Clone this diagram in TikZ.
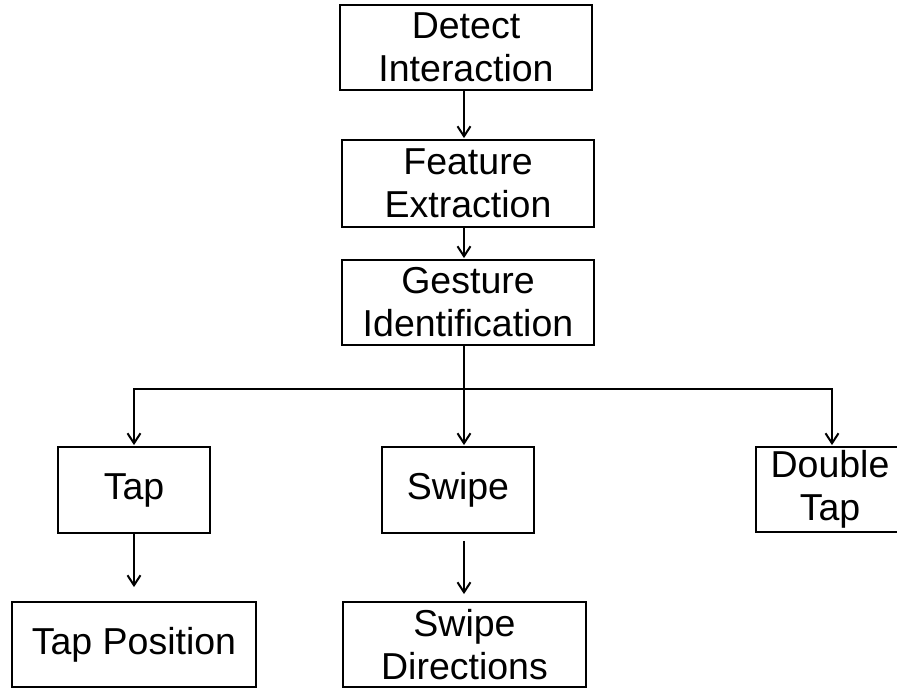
\documentclass[tikz,border=0pt]{standalone}
\usepackage{fontspec}
\setmainfont{Liberation Sans}
\usetikzlibrary{arrows.meta}
\begin{document}
\begin{tikzpicture}[x=1pt,y=-1pt,
  box/.style={draw=black, line width=1.8pt, inner sep=0pt, align=center,
    font=\fontsize{37.5}{43}\selectfont},
  conn/.style={line width=2pt, -{Straight Barb[length=10pt,width=13pt,line width=2pt]}},
  plain/.style={line width=2pt}]
\useasboundingbox (0,0) rectangle (897,688);
\node[box, minimum width=252pt, minimum height=85pt] (detect) at (466,47.5) {Detect\\Interaction};
\node[box, minimum width=252pt, minimum height=87pt] (feature) at (468,183.5) {Feature\\Extraction};
\node[box, minimum width=252pt, minimum height=85pt] (gesture) at (468,302.5) {Gesture\\Identification};
\node[box, minimum width=152pt, minimum height=86pt] (tap) at (134,490) {Tap};
\node[box, minimum width=152pt, minimum height=86pt] (swipe) at (458,490) {Swipe};
\node[box, minimum width=148pt, minimum height=85pt] (double) at (830,489.5) {Double\\Tap};
\node[box, minimum width=244pt, minimum height=85pt] (tappos) at (134,644.5) {Tap Position};
\node[box, minimum width=243pt, minimum height=85pt] (swipedir) at (464.5,644.5) {Swipe\\Directions};
\coordinate (spine) at (464,0);
\coordinate (junc) at (464,389);
\coordinate (jl) at (134,389);
\coordinate (jr) at (832,389);
\draw[conn, shorten >=1pt] (detect.south -| spine) -- (feature.north -| spine);
\draw[conn, shorten >=1pt] (feature.south -| spine) -- (gesture.north -| spine);
\draw[plain] (gesture.south -| spine) -- (junc);
\draw[plain, line cap=rect] (jl) -- (jr);
\draw[conn, shorten >=1pt] (jl) -- (tap.north);
\draw[conn, shorten >=1pt] (junc) -- (swipe.north -| junc);
\draw[conn, shorten >=1pt] (jr) -- (double.north -| jr);
\draw[conn, shorten >=14pt] (tap.south) -- (tappos.north -| tap.south);
\draw[conn, shorten <=7pt, shorten >=7pt] (swipe.south -| junc) -- (swipedir.north -| junc);
\end{tikzpicture}
\end{document}
